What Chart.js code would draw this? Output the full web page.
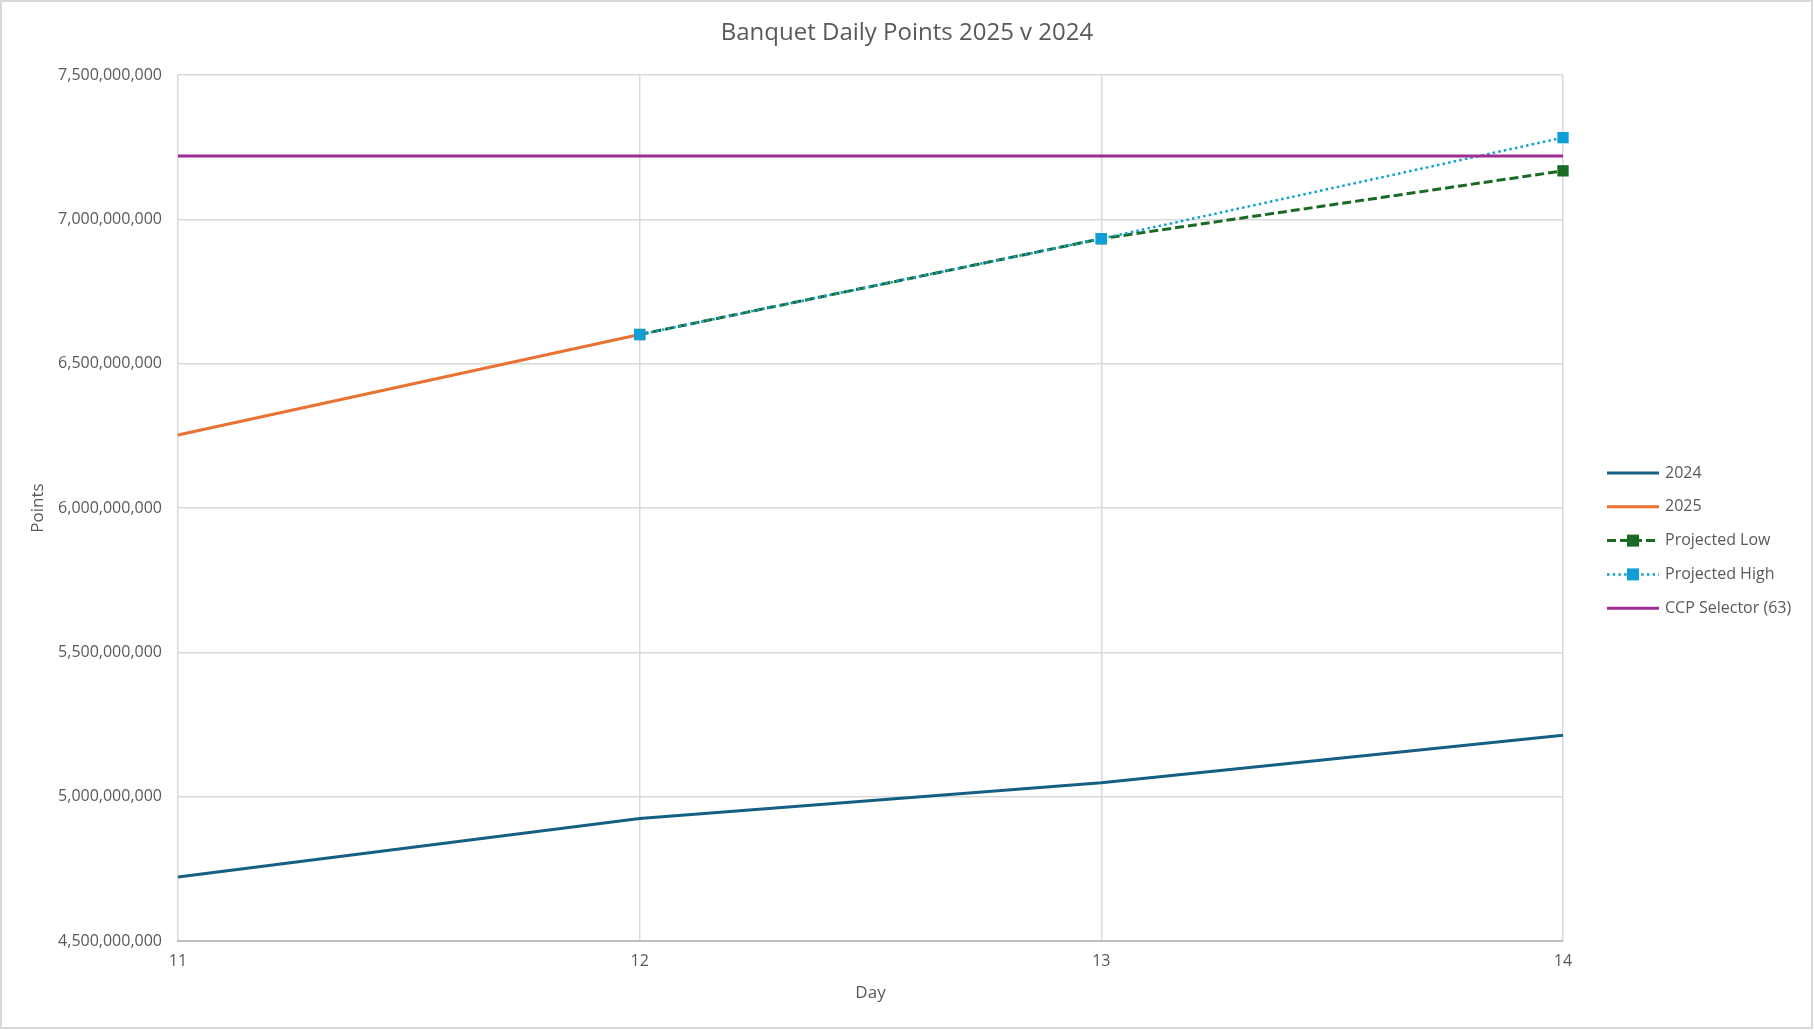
<!DOCTYPE html>
<html>
<head>
<meta charset="utf-8">
<script src="https://cdn.jsdelivr.net/npm/chart.js@4.4.1/dist/chart.umd.min.js"></script>
<style>
  html, body { margin: 0; padding: 0; background: #fff; }
  #pointsChart { position: absolute; left: 0; top: 0; }
</style>
</head>
<body>
<canvas id="pointsChart" width="1814" height="1030"></canvas>
<script>
  const days = ['11', '12', '13', '14'];
  const points2024 = [4722000000, 4924000000, 5048000000, 5213000000];
  const points2025 = [6253000000, 6601000000, null, null];
  const projectedLow = [null, 6601000000, 6933000000, 7168000000];
  const projectedHigh = [null, 6601000000, 6933000000, 7283000000];
  const ccpSelector = [7219000000, 7219000000, 7219000000, 7219000000];
  const yTicks = [4500000000, 5000000000, 5500000000, 6000000000, 6500000000, 7000000000, 7500000000];

  Chart.defaults.font.family = "'Open Sans', 'Liberation Sans', sans-serif";
  Chart.defaults.color = '#595959';

  // title, legend and outer frame drawn by hand (legend needs line + marker)
  const excelBits = {
    id: 'excelBits',
    afterDraw(chart) {
      const c = chart.ctx;
      c.save();
      c.strokeStyle = '#d9d9d9';
      c.lineWidth = 2;
      c.strokeRect(1, 1, 1811, 1027);

      c.fillStyle = '#595959';
      c.font = "24px 'Open Sans', 'Liberation Sans', sans-serif";
      c.textAlign = 'center';
      c.textBaseline = 'middle';
      c.fillText('Banquet Daily Points 2025 v 2024', 907, 33);

      c.font = "16px 'Open Sans', 'Liberation Sans', sans-serif";
      c.textAlign = 'left';
      let y = 473;
      chart.data.datasets.forEach(ds => {
        c.strokeStyle = ds.borderColor;
        c.lineWidth = ds.borderWidth;
        c.setLineDash(ds.borderDash || []);
        c.beginPath();
        c.moveTo(1607, y);
        c.lineTo(1659, y);
        c.stroke();
        c.setLineDash([]);
        if (ds.pointRadius > 0) {
          c.fillStyle = ds.pointBackgroundColor;
          c.fillRect(1627, y - 6, 12, 12);
        }
        c.fillStyle = '#595959';
        c.fillText(ds.label, 1665, y);
        y += 33.8;
      });
      c.restore();
    }
  };

  const ctx = document.getElementById('pointsChart');
  const pointsChart = new Chart(ctx, {
    type: 'line',
    data: {
      labels: days,
      datasets: [{
        label: '2024',
        data: points2024,
        borderColor: '#156082',
        borderWidth: 3,
        pointRadius: 0,
        order: 4,
      }, {
        label: '2025',
        data: points2025,
        borderColor: '#E97132',
        borderWidth: 3,
        pointRadius: 0,
        order: 3,
      }, {
        label: 'Projected Low',
        data: projectedLow,
        borderColor: '#196B24',
        borderWidth: 3,
        borderDash: [9, 4],
        pointStyle: 'rect',
        pointRadius: 8,
        pointBackgroundColor: '#196B24',
        pointBorderWidth: 0,
        order: 2,
      }, {
        label: 'Projected High',
        data: projectedHigh,
        borderColor: '#0F9ED5',
        borderWidth: 2.5,
        borderDash: [2.5, 3.2],
        pointStyle: 'rect',
        pointRadius: 8,
        pointBackgroundColor: '#0F9ED5',
        pointBorderWidth: 0,
        order: 1,
      }, {
        label: 'CCP Selector (63)',
        data: ccpSelector,
        borderColor: '#A02B93',
        borderWidth: 3,
        pointRadius: 0,
        order: 0,
      }]
    },
    options: {
      responsive: false,
      animation: false,
      layout: { padding: { left: 0, right: 251, top: 75, bottom: 0 } },
      plugins: {
        legend: { display: false },
        title: { display: false },
        tooltip: { enabled: false },
      },
      scales: {
        x: {
          type: 'category',
          offset: false,
          grid: { color: '#d9d9d9', lineWidth: 1.5, drawTicks: false },
          border: { color: '#bfbfbf', width: 2 },
          ticks: { padding: 11, font: { size: 16 }, color: '#595959' },
          title: { display: true, text: 'Day', font: { size: 17 }, color: '#595959', padding: { top: 0, bottom: 27 } },
          afterFit: (s) => { s.height = 89; },
        },
        y: {
          min: 4500000000,
          max: 7500000000,
          afterBuildTicks: (s) => { s.ticks = yTicks.map(v => ({ value: v })); },
          grid: { color: '#d9d9d9', lineWidth: 1.5, drawTicks: false },
          border: { display: false },
          ticks: {
            padding: 16,
            font: { size: 16 },
            color: '#595959',
            callback: (v) => v.toLocaleString('en-US'),
          },
          title: { display: true, text: 'Points', font: { size: 17 }, color: '#595959', padding: { top: 28, bottom: 0 } },
          afterFit: (s) => { s.width = 178; },
        }
      }
    },
    plugins: [excelBits],
  });
</script>
</body>
</html>
